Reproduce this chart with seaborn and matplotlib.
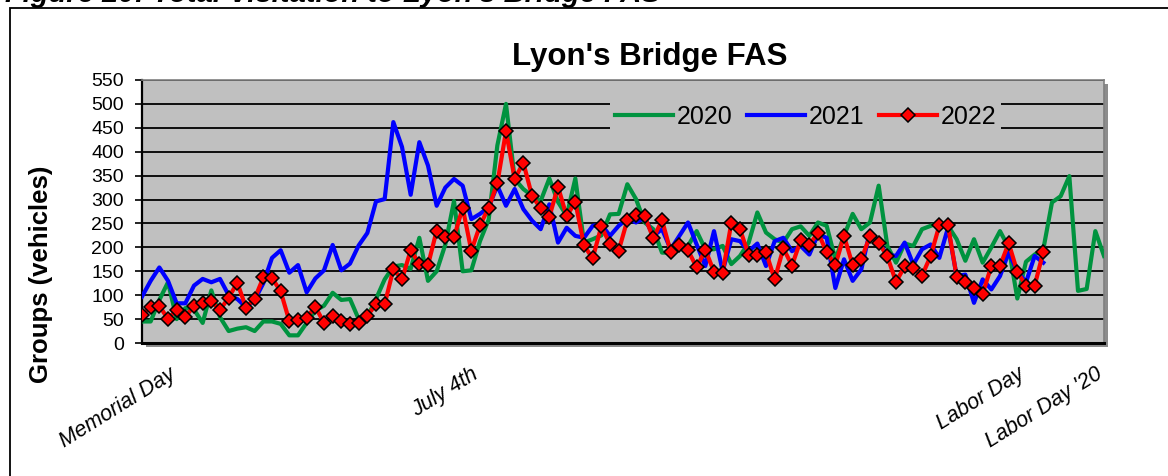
import matplotlib
matplotlib.use("Agg")
import matplotlib.pyplot as plt
from matplotlib.patches import Rectangle
from matplotlib.lines import Line2D
import seaborn as sns
import numpy as np

# ---------------- data ----------------
series_names = ["2020", "2021", "2022"]

values_2020 = [45, 45, 90, 127, 50, 73, 70, 42, 110, 54, 25, 30, 33, 25, 45, 45,
               40, 16, 16, 42, 68, 78, 105, 90, 92, 50, 55, 92, 133, 160, 163, 155,
               220, 130, 150, 206, 297, 150, 152, 213, 258, 413, 500, 343, 322, 308,
               297, 344, 295, 266, 344, 210, 217, 225, 269, 270, 332, 301, 252, 238,
               189, 189, 203, 203, 234, 196, 196, 203, 165, 182, 210, 273, 231, 217,
               210, 238, 244, 224, 252, 245, 175, 224, 270, 238, 252, 329, 203, 168,
               208, 203, 238, 245, 252, 245, 217, 172, 217, 168, 200, 234, 200, 93,
               170, 185, 196, 294, 307, 349, 109, 113, 234, 182]

values_2021 = [97, 130, 158, 130, 83, 83, 120, 134, 127, 134, 100, 92, 75, 90, 125, 178,
               194, 147, 163, 106, 135, 152, 205, 152, 166, 204, 230, 296, 301, 462, 410,
               310, 420, 371, 287, 325, 343, 329, 259, 270, 284, 329, 287, 322, 280, 256,
               238, 290, 210, 241, 224, 220, 245, 248, 224, 245, 260, 252, 262, 224, 238,
               196, 224, 252, 206, 161, 234, 150, 217, 213, 192, 208, 161, 213, 220, 192,
               203, 185, 227, 220, 115, 175, 130, 154, 234, 210, 185, 182, 210, 164, 196,
               206, 178, 241, 140, 143, 84, 133, 112, 140, 189, 150, 127, 182, 168]

values_2022 = [58, 76, 78, 50, 70, 55, 77, 84, 87, 69, 95, 126, 74, 93, 137, 136,
               108, 46, 49, 53, 76, 42, 57, 46, 39, 42, 57, 81, 81, 154, 133, 194,
               166, 163, 235, 222, 221, 283, 193, 246, 283, 334, 443, 343, 377, 308,
               282, 264, 327, 265, 295, 204, 177, 244, 207, 193, 257, 267, 265, 219,
               257, 191, 204, 194, 158, 195, 149, 147, 251, 238, 184, 185, 190, 133,
               198, 162, 215, 205, 231, 190, 163, 224, 163, 175, 224, 210, 181, 128,
               160, 156, 141, 182, 246, 246, 139, 127, 114, 103, 161, 161, 209, 149,
               120, 120, 191]

tick_positions = [3, 38, 101, 110]
tick_labels = ["Memorial Day", "July 4th", "Labor Day", "Labor Day '20"]

chart_title = "Lyon's Bridge FAS"
figure_caption = "Figure 20: Total Visitation to Lyon's Bridge FAS"
y_label = "Groups (vehicles)"

# ---------------- style ----------------
plt.rcParams["font.family"] = ["Liberation Sans", "DejaVu Sans"]

W, H = 1168, 476
fig = plt.figure(figsize=(W / 100, H / 100), dpi=100)
fig.patch.set_facecolor("white")

L, R, T, B = 142, 1104, 80, 343
ax = fig.add_axes([L / W, 1 - B / H, (R - L) / W, (B - T) / H])
ax.set_facecolor("#C0C0C0")

# plot-area shadow
shadow = Rectangle(((L + 4) / W, 1 - (B + 4) / H), (R - L) / W, (B - T) / H,
                   transform=fig.transFigure, facecolor="#8c8c8c", edgecolor="none",
                   zorder=-1)
fig.add_artist(shadow)

# outer frame
frame = Rectangle((10 / W, -0.2), 1.5, 1.2 - 8 / H, transform=fig.transFigure,
                  fill=False, edgecolor="black", linewidth=1.3, clip_on=False)
fig.add_artist(frame)

colors = {"2020": "#00933F", "2021": "#0000FF", "2022": "#FF0000"}

sns.lineplot(x=np.arange(len(values_2020)), y=values_2020, ax=ax,
             color=colors["2020"], linewidth=3, zorder=3)
sns.lineplot(x=np.arange(len(values_2021)), y=values_2021, ax=ax,
             color=colors["2021"], linewidth=3, zorder=4)
sns.lineplot(x=np.arange(len(values_2022)), y=values_2022, ax=ax,
             color=colors["2022"], linewidth=3, marker="D", markersize=7.5,
             markerfacecolor="#FF0000", markeredgecolor="black",
             markeredgewidth=1.1, zorder=5)

ax.set_xlim(0, len(values_2020) - 1)
ax.set_ylim(0, 550)
ax.set_yticks(np.arange(0, 551, 50))
ax.yaxis.grid(True, color="black", linewidth=1.3, zorder=1)
ax.set_axisbelow(True)
ax.tick_params(axis="y", direction="out", length=5, width=1.2, pad=8,
               labelsize=14, colors="black")

ax.set_xticks(tick_positions)
ax.set_xticklabels(tick_labels, rotation=32, ha="right", va="top",
                   rotation_mode="anchor", fontsize=15.5, style="italic")
ax.tick_params(axis="x", length=0, pad=15)

ax.spines["left"].set_color("black")
ax.spines["left"].set_linewidth(1.6)
ax.spines["bottom"].set_color("black")
ax.spines["bottom"].set_linewidth(2.2)
for s in ["top", "right"]:
    ax.spines[s].set_color("#808080")
    ax.spines[s].set_linewidth(1.2)

ax.set_xlabel("")
ax.set_ylabel(y_label, fontsize=18.5, fontweight="bold")
ax.yaxis.set_label_coords(-0.093, 0.26)

fig.text(650 / W, 1 - 57 / H, chart_title, fontsize=22.5, fontweight="bold",
         ha="center", va="center")

handles = [
    Line2D([], [], color=colors["2020"], linewidth=3),
    Line2D([], [], color=colors["2021"], linewidth=3),
    Line2D([], [], color=colors["2022"], linewidth=3, marker="D", markersize=7.5,
           markerfacecolor="#FF0000", markeredgecolor="black", markeredgewidth=1.1),
]
leg = ax.legend(handles, series_names, ncol=3, loc="center",
                bbox_to_anchor=(0.69, 0.86), fontsize=18, frameon=True,
                facecolor="#C0C0C0", edgecolor="none", framealpha=1,
                handlelength=2.3, handletextpad=0.15, columnspacing=0.6,
                borderpad=0.2, fancybox=False)

fig.text(5 / W, 1 - 2 / H, figure_caption, fontsize=21, fontweight="bold",
         style="italic", ha="left", va="baseline")

fig.savefig("out.png", dpi=100)
